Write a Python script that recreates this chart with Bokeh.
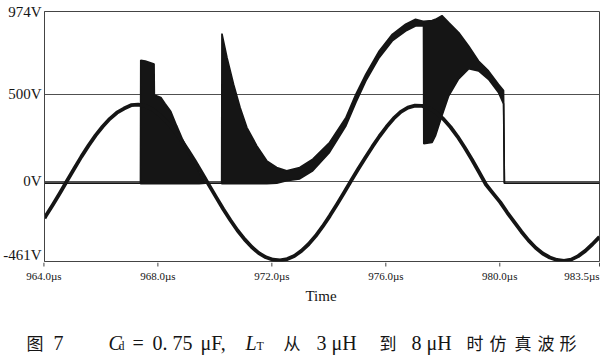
from bokeh.plotting import figure
from bokeh.layouts import column
from bokeh.models import Range1d, FixedTicker, PrintfTickFormatter
from bokeh.core.properties import value
from bokeh.embed import file_html
from bokeh.resources import INLINE

# ---------------- data ----------------
x_start, x_end = 963.95, 983.5
y_ticks = [-461, 0, 500, 974]
x_ticks = [964.0, 968.0, 972.0, 976.0, 980.0]
x_tick_labels = ["964.0µs", "968.0µs", "972.0µs", "976.0µs", "980.0µs"]
x_last_tick = 983.5
x_last_label = "983.5µs"
x_title = "Time"

# waveform 1 (sinusoid)
sine_t = [963.95, 964.0, 964.25, 964.5, 964.75, 965.0, 965.25, 965.5, 965.75, 966.0,
          966.25, 966.5, 966.75, 967.0, 967.25, 967.5, 967.75, 968.0, 968.25, 968.5,
          968.75, 969.0, 969.25, 969.5, 969.75, 970.0, 970.25, 970.5, 970.75, 971.0,
          971.25, 971.5, 971.75, 972.0, 972.25, 972.5, 972.75, 973.0, 973.25, 973.5,
          973.75, 974.0, 974.25, 974.5, 974.75, 975.0, 975.25, 975.5, 975.75, 976.0,
          976.25, 976.5, 976.75, 977.0, 977.25, 977.5, 977.75, 978.0, 978.25, 978.5,
          978.75, 979.0, 979.25, 979.5, 979.75, 980.0, 980.25, 980.5, 980.75, 981.0,
          981.25, 981.5, 981.75, 982.0, 982.25, 982.5, 982.75, 983.0, 983.25, 983.5]
sine_v = [-212, -199, -134, -66, 4, 73, 141, 204, 263, 314,
          358, 393, 417, 436, 440, 432, 413, 380, 342, 295,
          240, 179, 114, 46, -24, -93, -161, -224, -283, -334,
          -378, -413, -437, -451, -455, -447, -429, -400, -362, -315,
          -260, -199, -134, -66, 2, 70, 135, 198, 258, 312,
          360, 398, 422, 434, 432, 419, 393, 357, 311, 256,
          193, 126, 54, -19, -70, -120, -180, -235, -290, -340,
          -382, -415, -438, -452, -457, -450, -430, -400, -362, -320]

# waveform 2 (switching voltage): upper / lower envelope
w2_t = [963.95, 967.33, 967.34, 967.5, 967.81, 967.82, 968.05, 968.2, 968.4, 968.6,
        968.8, 969.0, 969.2, 969.4, 969.62, 970.19, 970.2, 970.38, 970.61, 970.84,
        971.08, 971.43, 971.78, 972.13, 972.48, 972.94, 973.4, 973.99, 974.57, 974.92,
        975.27, 975.74, 976.2, 976.67, 977.02, 977.25, 977.3, 977.31, 977.6, 977.72,
        977.95, 978.19, 978.54, 978.89, 979.24, 979.59, 979.94, 980.12, 980.15, 983.5]
w2_hi = [-12, -12, 694, 690, 672, 495, 480, 445, 400, 320,
         245, 179, 112, 50, -12, -12, 847, 709, 557, 423,
         308, 203, 117, 79, 60, 79, 127, 222, 366, 500,
         614, 748, 843, 901, 929, 920, 918, 918, 922, 929,
         950, 910, 853, 776, 690, 633, 557, 520, -12, -12]
w2_lo = [-12, -12, -15, -15, -15, -15, -15, -15, -15, -15,
         -15, -15, -15, -15, -12, -12, -15, -15, -15, -15,
         -15, -15, -15, -12, 3, 13, 60, 165, 318, 452,
         576, 709, 805, 862, 891, 891, 895, 215, 222, 260,
         375, 490, 587, 645, 633, 585, 509, 444, -12, -12]

caption_parts = ["图", "7", "C", "d", "=", "0. 75", "μF,", "L", "T", "从", "3", "μH",
                 "到", "8", "μH", "时", "仿", "真", "波", "形"]

# ---------------- styles / layout ----------------
SERIF = "Liberation Serif"
CJK = "Noto Sans CJK SC"
INK = "#151515"
W = 600
H_TOP = 262           # chart part (frame 11..261)
H_BOT = 94            # tick labels, axis title, caption
B_LEFT, B_RIGHT, B_TOP = 42, 1, 11
FRAME_W = W - B_LEFT - B_RIGHT

p = figure(width=W, height=H_TOP, output_backend="svg", toolbar_location=None,
           x_range=Range1d(x_start, x_end), y_range=Range1d(y_ticks[0], y_ticks[-1]),
           x_axis_location=None,
           min_border_left=B_LEFT, min_border_right=B_RIGHT,
           min_border_top=B_TOP, min_border_bottom=1)
p.frame_align = False
p.background_fill_color = "white"
p.border_fill_color = "white"
p.outline_line_color = "#444444"
p.outline_line_width = 1
p.xgrid.visible = False
p.ygrid.grid_line_color = "#505050"
p.ygrid.grid_line_width = 1

ya = p.yaxis[0]
ya.ticker = FixedTicker(ticks=y_ticks)
ya.formatter = PrintfTickFormatter(format="%dV")
ya.major_label_text_font = SERIF
ya.major_label_text_font_size = "15px"
ya.major_label_text_color = INK
ya.major_label_standoff = 3
ya.major_tick_out = 0
ya.major_tick_in = 0
ya.minor_tick_out = 0
ya.minor_tick_in = 0
ya.axis_line_color = "#444444"

# waveform 2
p.varea(x=w2_t, y1=w2_lo, y2=w2_hi, fill_color=INK, fill_alpha=1)
p.line(w2_t, w2_hi, line_color=INK, line_width=1.6)
p.line(w2_t, w2_lo, line_color=INK, line_width=1.6)
# waveform 1
p.line(sine_t, sine_v, line_color=INK, line_width=3.8, line_join="round")

# ---------------- lower strip: x ticks, tick labels, title, caption ----------------
px_per_us = FRAME_W / (x_end - x_start)
q_x0 = x_start - B_LEFT / px_per_us
q = figure(width=W, height=H_BOT, output_backend="svg", toolbar_location=None,
           x_range=Range1d(q_x0, q_x0 + W / px_per_us),
           y_range=Range1d(0, H_BOT), x_axis_location=None, y_axis_location=None,
           min_border_left=0, min_border_right=0, min_border_top=0, min_border_bottom=0)
q.frame_align = False
q.outline_line_color = None
q.background_fill_color = "white"
q.border_fill_color = "white"
q.grid.visible = False

all_ticks = x_ticks + [x_last_tick]
q.segment(x0=all_ticks, x1=all_ticks, y0=[H_BOT] * len(all_ticks), y1=[H_BOT - 4] * len(all_ticks),
          line_color="#444444", line_width=1)
q.text(x=x_ticks, y=[H_BOT - 13] * len(x_ticks), text=x_tick_labels,
       text_font=value(SERIF), text_font_size="11px", text_color=INK,
       text_align="center", text_baseline="middle")
q.text(x=[x_last_tick], y=[H_BOT - 13], text=[x_last_label],
       text_font=value(SERIF), text_font_size="11px", text_color=INK,
       text_align="right", text_baseline="middle")
q.text(x=[(x_start + x_end) / 2], y=[H_BOT - 33], text=[x_title],
       text_font=value(SERIF), text_font_size="15px", text_color=INK,
       text_align="center", text_baseline="middle")

# caption pieces: (page x of left edge, vertical centre page y, font, size, style)
cap_fmt = [
    (26, 342, CJK, "17px", "normal"),
    (53, 342, SERIF, "20px", "normal"),
    (108, 342, SERIF, "20px", "italic"),
    (118, 345, SERIF, "12px", "normal"),
    (132, 342, SERIF, "20px", "normal"),
    (152, 342, SERIF, "20px", "normal"),
    (200, 342, SERIF, "20px", "normal"),
    (245, 342, SERIF, "20px", "italic"),
    (256, 345, SERIF, "12px", "normal"),
    (283, 342, CJK, "17px", "normal"),
    (316, 342, SERIF, "20px", "normal"),
    (331, 342, SERIF, "20px", "normal"),
    (379, 342, CJK, "17px", "normal"),
    (411, 342, SERIF, "20px", "normal"),
    (426, 342, SERIF, "20px", "normal"),
    (466, 342, CJK, "17px", "normal"),
    (489, 342, CJK, "17px", "normal"),
    (514, 342, CJK, "17px", "normal"),
    (537, 342, CJK, "17px", "normal"),
    (559, 342, CJK, "17px", "normal"),
]
for txt, (px, py, fnt, fs, st) in zip(caption_parts, cap_fmt):
    q.text(x=[q_x0 + px / px_per_us], y=[(H_TOP + H_BOT) - py], text=[txt],
           text_font=value(fnt), text_font_size=fs, text_font_style=value(st),
           text_color=INK, text_align="left", text_baseline="middle")

layout = column(p, q, spacing=0)
open("out.html", "w").write(file_html(layout, INLINE))
